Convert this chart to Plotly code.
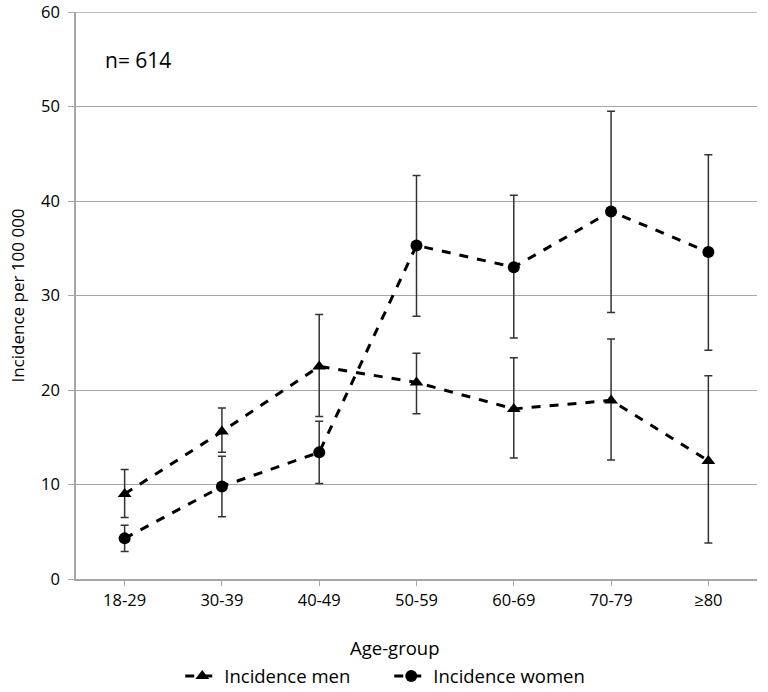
import plotly.graph_objects as go

categories = ["18-29", "30-39", "40-49", "50-59", "60-69", "70-79", "≥80"]
men = [9.0, 15.6, 22.5, 20.8, 18.0, 18.9, 12.5]
men_upper = [11.6, 18.1, 28.0, 23.9, 23.4, 25.4, 21.5]
men_lower = [6.5, 13.4, 17.2, 17.5, 12.8, 12.6, 3.8]
women = [4.3, 9.8, 13.4, 35.3, 33.0, 38.9, 34.6]
women_upper = [5.7, 13.0, 16.7, 42.7, 40.6, 49.5, 44.9]
women_lower = [2.9, 6.6, 10.1, 27.8, 25.5, 28.2, 24.2]

FONT = "Open Sans"
GRID = "#a6a6a6"

def err(vals, up, lo):
    return dict(type="data", symmetric=False,
                array=[u - v for u, v in zip(up, vals)],
                arrayminus=[v - l for v, l in zip(vals, lo)],
                color="#333333", thickness=1.5, width=4)

fig = go.Figure()
fig.add_trace(go.Scatter(
    x=categories, y=men, name="Incidence men", mode="lines+markers",
    line=dict(color="black", width=3, dash="dash"),
    marker=dict(symbol="triangle-up", size=12, color="black"),
    error_y=err(men, men_upper, men_lower)))
fig.add_trace(go.Scatter(
    x=categories, y=women, name="Incidence women", mode="lines+markers",
    line=dict(color="black", width=3, dash="dash"),
    marker=dict(symbol="circle", size=12, color="black"),
    error_y=err(women, women_upper, women_lower)))

# top gridline (plotly drops gridlines on the plot edge)
fig.add_shape(type="line", xref="paper", yref="y", x0=0, x1=1, y0=60, y1=60,
              line=dict(color=GRID, width=1.3), layer="below")

fig.add_annotation(text="n= 614", xref="paper", yref="paper", x=0.04, y=0.915,
                   xanchor="left", yanchor="middle", showarrow=False,
                   font=dict(family=FONT, size=21, color="black"))
fig.add_annotation(text="Age-group", xref="paper", yref="paper", x=0.467, y=-0.12,
                   xanchor="center", yanchor="middle", showarrow=False,
                   font=dict(family=FONT, size=18.5, color="black"))

fig.update_layout(
    width=768, height=692,
    margin=dict(l=76, r=11, t=12, b=113, autoexpand=False),
    paper_bgcolor="white", plot_bgcolor="white",
    font=dict(family=FONT, color="black", size=16),
    showlegend=True,
    legend=dict(orientation="h", x=0.46, xanchor="center", y=-0.172, yanchor="middle",
                font=dict(family=FONT, size=18.5), itemwidth=34,
                entrywidth=160, entrywidthmode="pixels"),
    xaxis=dict(type="category", range=[-0.5, 6.5], showline=True, linecolor=GRID,
               linewidth=1.5, ticks="outside", tickcolor=GRID, ticklen=5,
               showgrid=False, tickfont=dict(size=16.5)),
    yaxis=dict(range=[0, 60], dtick=10, showline=True, linecolor=GRID, linewidth=1.5,
               showgrid=True, gridcolor=GRID, gridwidth=1.3,
               ticks="outside", tickcolor=GRID, ticklen=6, zeroline=False,
               tickfont=dict(size=16.5), ticklabelstandoff=5, ticklabeloverflow="allow",
               title=dict(text="Incidence per 100 000", font=dict(size=17), standoff=12)),
)

fig.write_html("out.html")
